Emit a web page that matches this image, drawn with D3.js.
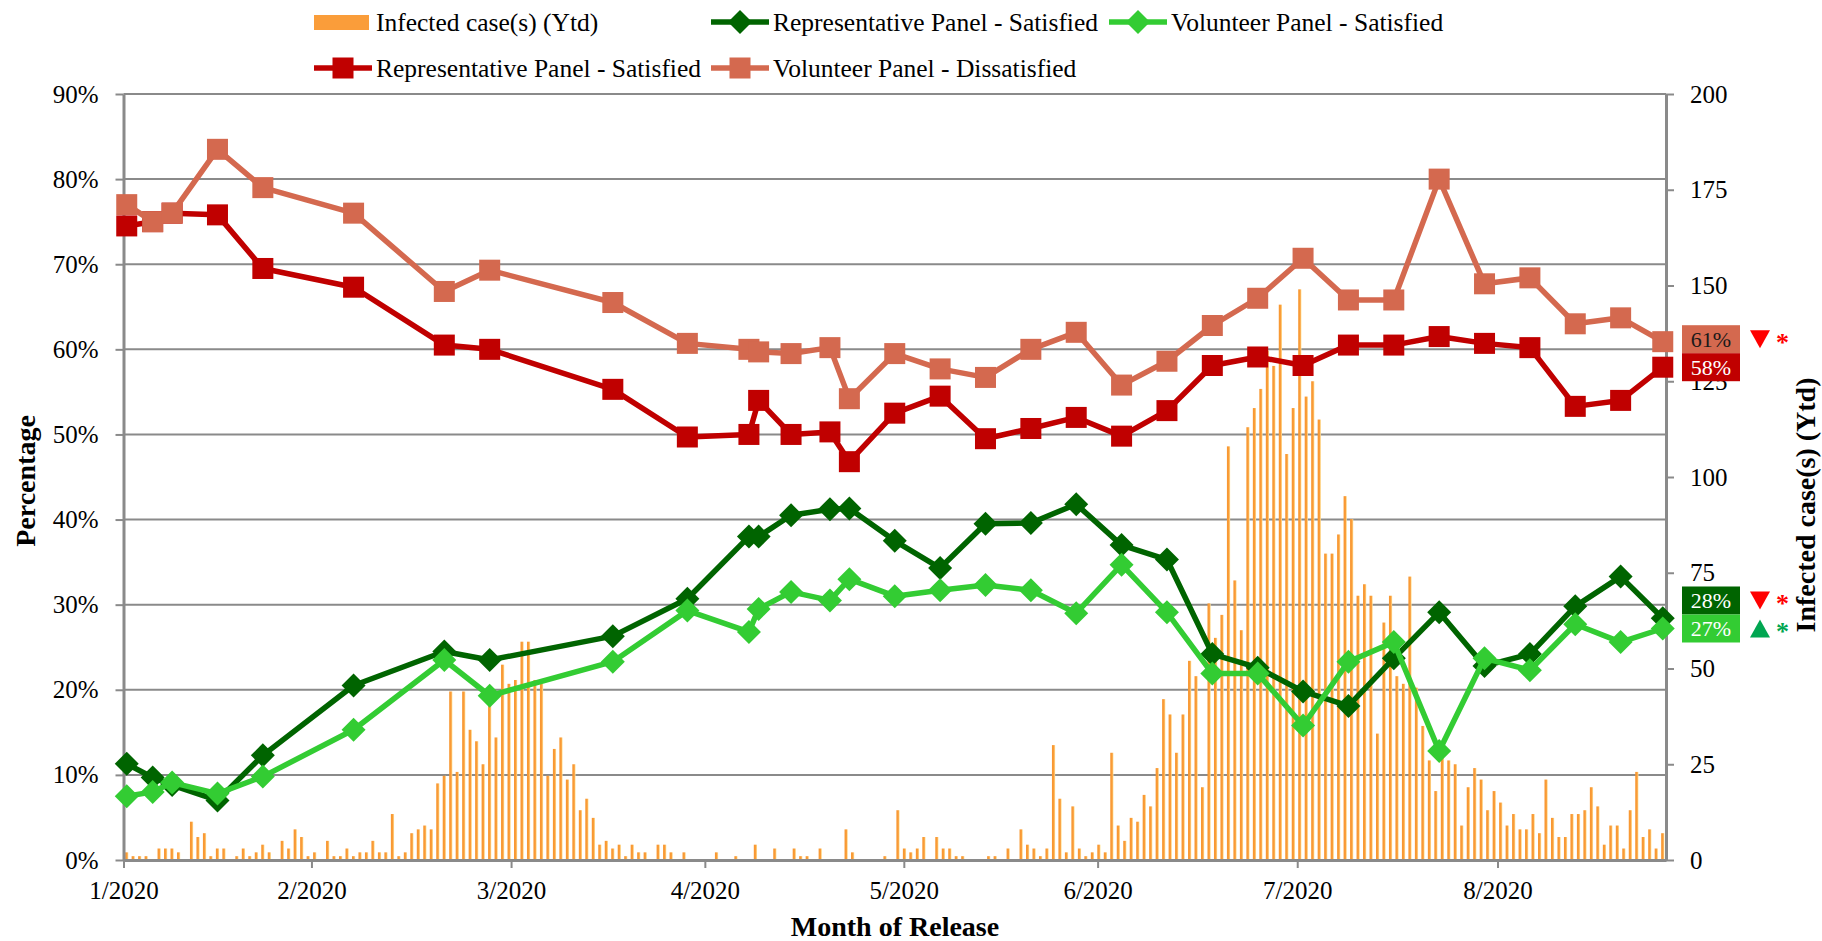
<!DOCTYPE html>
<html>
<head>
<meta charset="utf-8">
<script src="https://cdn.jsdelivr.net/npm/d3@7"></script>
<style>
  body { margin: 0; background: #fff; }
  text { font-family: "Liberation Serif", "Times New Roman", serif; fill: #000; }
</style>
</head>
<body>
<div id="chart"></div>
<script>
// daily infected cases (one bar per slot on the category axis)
var caseCounts = [
  2,1,1,1,0,3,3,3,2,0,10,6,7,1,3,3,0,1,3,1,2,4,2,0,5,3,8,6,1,
  2,0,5,1,1,3,1,2,2,5,2,2,12,1,2,7,8,9,8,20,22,44,23,44,34,31,25,43,32,51,46,
  47,57,57,47,46,22,29,32,21,25,13,16,11,4,5,3,4,1,4,2,2,0,4,4,2,0,2,0,0,0,0,
  2,0,0,1,0,0,4,0,0,3,0,0,3,1,1,0,3,0,0,0,8,2,0,0,0,0,1,0,
  13,3,2,3,6,0,6,3,3,1,1,0,0,0,1,1,0,3,0,8,4,3,1,3,30,16,2,14,3,1,2,
  4,2,28,9,5,11,10,17,14,24,42,38,28,38,52,48,19,67,58,64,108,73,60,113,118,123,133,129,145,106,
  118,149,121,125,115,80,80,85,95,89,69,72,69,33,62,69,48,46,74,45,35,26,18,27,26,25,9,19,24,21,
  13,18,15,9,12,8,8,12,7,21,11,6,6,12,12,13,19,14,4,9,9,3,13,23,6,8,3,7
];

var monthLabels = ["1/2020", "2/2020", "3/2020", "4/2020", "5/2020", "6/2020", "7/2020", "8/2020"];
var monthTickSlot = [0, 29, 59.8, 89.7, 120.4, 150.3, 181.1, 212];

// survey release positions (slot units) and panel results (%)
var surveySlot = [0.5, 4.5, 7.5, 14.5, 21.5, 35.5, 49.5, 56.5, 75.5, 87, 96.5, 98, 103, 109, 112,
  119, 126, 133, 140, 147, 154, 161, 168, 175, 182, 189, 196, 203, 210, 217, 224, 231, 237.5];

var repSatisfiedGreen = [11.3, 9.7, 8.8, 7.0, 12.3, 20.5, 24.5, 23.5, 26.3, 30.7, 38.0, 38.0, 40.5, 41.2, 41.3,
  37.5, 34.3, 39.5, 39.6, 41.8, 37.0, 35.3, 24.2, 22.6, 19.8, 18.1, 23.7, 29.1, 22.8, 24.2, 29.8, 33.3, 28.4];
var volSatisfied = [7.5, 8.0, 9.1, 7.8, 9.8, 15.3, 23.5, 19.3, 23.3, 29.3, 26.8, 29.5, 31.5, 30.5, 33.0,
  31.0, 31.7, 32.3, 31.7, 29.0, 34.7, 29.1, 21.9, 21.9, 15.8, 23.3, 25.6, 12.8, 23.7, 22.3, 27.7, 25.6, 27.2];
var repSatisfiedRed = [74.5, 75.0, 76.0, 75.8, 69.5, 67.3, 60.5, 60.0, 55.3, 49.7, 50.0, 54.0, 50.0, 50.3, 46.8,
  52.5, 54.5, 49.5, 50.7, 52.0, 49.8, 52.8, 58.1, 59.1, 58.1, 60.5, 60.5, 61.5, 60.7, 60.2, 53.3, 54.0, 57.9];
var volDissatisfied = [77.0, 75.0, 76.0, 83.5, 79.0, 76.0, 66.8, 69.3, 65.5, 60.7, 60.0, 59.7, 59.5, 60.2, 54.2,
  59.5, 57.7, 56.7, 60.0, 62.0, 55.8, 58.6, 62.8, 66.0, 70.7, 65.8, 65.8, 80.0, 67.7, 68.4, 63.0, 63.7, 60.9];

var pctTicks = [0, 10, 20, 30, 40, 50, 60, 70, 80, 90];
var caseTicks = [0, 25, 50, 75, 100, 125, 150, 175, 200];

function drawChart() {
  var width = 1822, height = 941;
  var plotLeft = 123.5, plotRight = 1666, plotTop = 94, plotBottom = 860;
  var gray = "#8a8a8a";

  var svg = d3.select("#chart").append("svg")
    .attr("width", width)
    .attr("height", height);

  var defs = svg.append("defs");
  var grad = defs.append("linearGradient").attr("id", "barGrad")
    .attr("x1", "0%").attr("x2", "100%").attr("y1", "0%").attr("y2", "0%");
  grad.append("stop").attr("offset", "0%").attr("stop-color", "#f7962f");
  grad.append("stop").attr("offset", "60%").attr("stop-color", "#fa9d3a");
  grad.append("stop").attr("offset", "100%").attr("stop-color", "#ffe6a0");

  var x = d3.scaleLinear().domain([0, caseCounts.length]).range([plotLeft, plotRight]);
  var yPct = d3.scaleLinear().domain([0, 90]).range([plotBottom, plotTop]);
  var yCase = d3.scaleLinear().domain([0, 200]).range([plotBottom, plotTop]);
  var slotW = x(1) - x(0);

  // gridlines
  svg.append("g").selectAll("line")
    .data(pctTicks.filter(d => d > 0))
    .enter().append("line")
    .attr("x1", plotLeft).attr("x2", plotRight)
    .attr("y1", d => yPct(d)).attr("y2", d => yPct(d))
    .attr("stroke", gray).attr("stroke-width", 2);

  // bars
  var bw = 3.2;
  svg.append("g").selectAll("rect")
    .data(caseCounts)
    .enter().append("rect")
    .attr("x", (d, i) => x(i) + (slotW - bw) / 2)
    .attr("y", d => yCase(d))
    .attr("width", bw)
    .attr("height", d => plotBottom - yCase(d))
    .attr("fill", "url(#barGrad)");

  // axes
  function styleAxis(g) {
    g.selectAll("path").attr("stroke", gray).attr("stroke-width", 3);
    g.selectAll("line").attr("stroke", gray).attr("stroke-width", 2);
    g.selectAll("text").style("font-size", "25px").style("font-family", "'Liberation Serif', serif").attr("fill", "#000");
  }

  svg.append("g")
    .attr("transform", "translate(" + plotLeft + ",0)")
    .call(d3.axisLeft(yPct).tickValues(pctTicks).tickFormat(d => d + "%").tickSize(8).tickSizeOuter(0).tickPadding(17))
    .call(styleAxis);

  svg.append("g")
    .attr("transform", "translate(" + plotRight + ",0)")
    .call(d3.axisRight(yCase).tickValues(caseTicks).tickSize(8).tickSizeOuter(0).tickPadding(16))
    .call(styleAxis);

  svg.append("g")
    .attr("transform", "translate(0," + plotBottom + ")")
    .call(d3.axisBottom(x).tickValues(monthTickSlot).tickFormat((d, i) => monthLabels[i]).tickSize(8).tickSizeOuter(0).tickPadding(13))
    .call(styleAxis);

  // lines
  var series = [
    {name: "Representative Panel - Satisfied", values: repSatisfiedGreen, color: "#006400", marker: "diamond"},
    {name: "Volunteer Panel - Satisfied", values: volSatisfied, color: "#33cc33", marker: "diamond"},
    {name: "Representative Panel - Satisfied", values: repSatisfiedRed, color: "#c00000", marker: "square"},
    {name: "Volunteer Panel - Dissatisfied", values: volDissatisfied, color: "#d4694f", marker: "square"}
  ];

  var line = d3.line()
    .x(d => x(d[0]))
    .y(d => yPct(d[1]));

  function drawMarker(g, type, color, cx, cy) {
    if (type === "square") {
      g.append("rect").attr("x", cx - 10.5).attr("y", cy - 10.5)
        .attr("width", 21).attr("height", 21).attr("fill", color);
    } else {
      g.append("path")
        .attr("d", "M" + cx + "," + (cy - 12) + "L" + (cx + 12) + "," + cy + "L" + cx + "," + (cy + 12) + "L" + (cx - 12) + "," + cy + "Z")
        .attr("fill", color);
    }
  }

  series.forEach(s => {
    var pts = surveySlot.map((p, i) => [p, s.values[i]]);
    var g = svg.append("g");
    g.append("path")
      .attr("d", line(pts))
      .attr("fill", "none")
      .attr("stroke", s.color)
      .attr("stroke-width", 5.5)
      .attr("stroke-linejoin", "round");
    pts.forEach(p => drawMarker(g, s.marker, s.color, x(p[0]), yPct(p[1])));
  });

  // end-of-line value boxes
  var boxH = 28;
  var last = surveySlot.length - 1;
  function endBoxes(upper, lower) {
    var yl = yPct(lower.values[last]);
    var yu = Math.min(yPct(upper.values[last]), yl - boxH);
    return [{s: upper, y: yu}, {s: lower, y: yl}];
  }
  var boxes = endBoxes(series[3], series[2]).concat(endBoxes(series[0], series[1]));
  var boxText = {"#d4694f": "#1a1a1a"};
  var flags = [
    {dir: "down", color: "#ff0000"}, null,
    {dir: "down", color: "#ff0000"}, {dir: "up", color: "#00a651"}
  ];

  boxes.forEach((b, i) => {
    svg.append("rect")
      .attr("x", 1682).attr("y", b.y - boxH / 2)
      .attr("width", 58).attr("height", boxH)
      .attr("fill", b.s.color);
    svg.append("text")
      .attr("x", 1711).attr("y", b.y)
      .attr("dy", "0.35em")
      .attr("text-anchor", "middle")
      .style("font-size", "22px")
      .style("fill", boxText[b.s.color] || "#fff")
      .text(Math.round(b.s.values[last]) + "%");
    var f = flags[i];
    if (f) {
      var tx = 1760, ty = b.y;
      var tri = f.dir === "down"
        ? "M" + (tx - 10) + "," + (ty - 9) + "L" + (tx + 10) + "," + (ty - 9) + "L" + tx + "," + (ty + 9) + "Z"
        : "M" + (tx - 10) + "," + (ty + 9) + "L" + (tx + 10) + "," + (ty + 9) + "L" + tx + "," + (ty - 9) + "Z";
      svg.append("path").attr("d", tri).attr("fill", f.color);
      svg.append("text")
        .attr("x", 1776).attr("y", ty + 12)
        .style("font-size", "26px").style("font-weight", "bold")
        .style("fill", f.color)
        .text("*");
    }
  });

  // axis titles
  svg.append("text")
    .attr("x", 895).attr("y", 926).attr("dy", "0.35em")
    .attr("text-anchor", "middle")
    .style("font-size", "28px").style("font-weight", "bold")
    .text("Month of Release");

  svg.append("text")
    .attr("transform", "translate(25,481) rotate(-90)")
    .attr("dy", "0.35em")
    .attr("text-anchor", "middle")
    .style("font-size", "28px").style("font-weight", "bold")
    .text("Percentage");

  svg.append("text")
    .attr("transform", "translate(1805,505) rotate(-90)")
    .attr("dy", "0.35em")
    .attr("text-anchor", "middle")
    .style("font-size", "28px").style("font-weight", "bold")
    .text("Infected case(s) (Ytd)");

  // legend
  var legendItems = [
    {label: "Infected case(s) (Ytd)", kind: "bar", x: 314, y: 22},
    {label: series[0].name, kind: "line", s: series[0], x: 711, y: 22},
    {label: series[1].name, kind: "line", s: series[1], x: 1109, y: 22},
    {label: series[2].name, kind: "line", s: series[2], x: 314, y: 68},
    {label: series[3].name, kind: "line", s: series[3], x: 711, y: 68}
  ];

  legendItems.forEach(it => {
    var g = svg.append("g");
    if (it.kind === "bar") {
      g.append("rect").attr("x", it.x).attr("y", it.y - 7)
        .attr("width", 55).attr("height", 15).attr("fill", "#fa9d3a");
    } else {
      g.append("line")
        .attr("x1", it.x).attr("x2", it.x + 58)
        .attr("y1", it.y).attr("y2", it.y)
        .attr("stroke", it.s.color).attr("stroke-width", 5.5);
      drawMarker(g, it.s.marker, it.s.color, it.x + 29, it.y);
    }
    g.append("text")
      .attr("x", it.x + 62).attr("y", it.y)
      .attr("dy", "0.35em")
      .style("font-size", "25.5px")
      .text(it.label);
  });
}

drawChart();
</script>
</body>
</html>
